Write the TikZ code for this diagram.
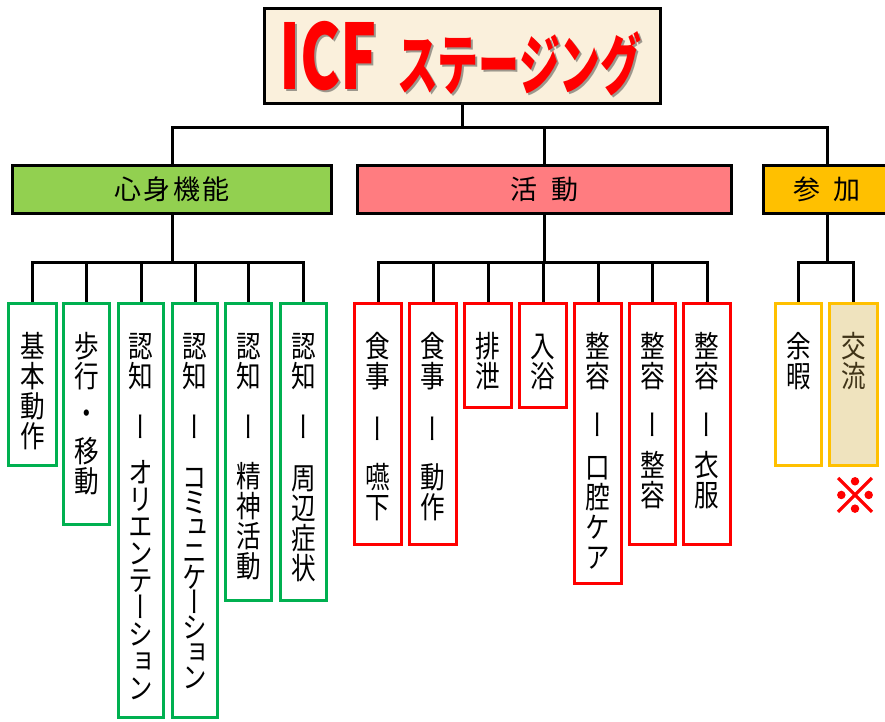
\documentclass[tikz,border=0pt]{standalone}
\usepackage{fontspec}
\usepackage{graphicx}
\newfontfamily\jpv[FakeStretch=0.82,RawFeature=+vert]{Noto Sans CJK JP}
\newfontfamily\jph{Noto Sans CJK JP}
\newfontfamily\jpmark[FakeBold=2.5]{Noto Sans CJK JP}
\newfontfamily\ttA[FakeStretch=0.67]{Noto Sans CJK JP}
\newfontfamily\ttB[FakeStretch=0.62]{Noto Sans CJK JP}
\definecolor{cgreen}{HTML}{92D050}
\definecolor{cgreenline}{HTML}{00B050}
\definecolor{csalmon}{HTML}{FF7C80}
\definecolor{cgold}{HTML}{FFC000}
\definecolor{cparch}{RGB}{250,240,220}
\definecolor{ctan}{RGB}{239,227,190}
\definecolor{ctexttan}{RGB}{64,52,24}
\newcommand\sepbar{ー}
\newcommand\fs{\rule{0pt}{27pt}}
\newcommand\leafnode[7]{%
  \node[leafbox,#5,minimum width={#3-#2-3},minimum height={#4-304.5}] (#1) at ({(#2+#3)/2},{(301.5+#4)/2}) {};
  \node[leaftext,#6,anchor=north] (#1t) at ([yshift=-28.4pt]#1.north) {\fs #7};
}
\begin{document}
\begin{tikzpicture}[x=1pt,y=-1pt,
  conn/.style={line width=3pt, draw=black},
  hdr/.style={draw=black, line width=3pt, inner sep=0pt, minimum height=48pt,
    font=\jph\fontsize{27pt}{27pt}\selectfont, text height=23.8pt, text depth=3.2pt},
  leafbox/.style={line width=3pt, inner sep=0pt},
  leafG/.style={draw=cgreenline, fill=white},
  leafR/.style={draw=red, fill=white},
  leafY/.style={draw=cgold, fill=white},
  leafY2/.style={draw=cgold, fill=ctan},
  leaftext/.style={inner sep=0pt, align=center, font=\jpv\fontsize{30pt}{30pt}\selectfont},
]
\useasboundingbox (0,0) rectangle (885,721);
\fill[white] (0,0) rectangle (885,721);

% title
\node[draw=black, line width=3pt, fill=cparch, inner sep=0pt, minimum width=396pt, minimum height=95pt] (title) at (462.5,56) {};
\node[anchor=base, inner sep=0pt, text=black!75, opacity=0.5] (titleshadow) at (462.5,91)
  {\bfseries{\ttA\fontsize{90pt}{90pt}\selectfont ICF}\hspace{20pt}{\ttB\fontsize{66pt}{66pt}\selectfont ステージング}};
\node[anchor=base, inner sep=0pt, text=red] (titletext) at (460.5,89)
  {\bfseries{\ttA\fontsize{90pt}{90pt}\selectfont ICF}\hspace{20pt}{\ttB\fontsize{66pt}{66pt}\selectfont ステージング}};

% headers
\node[hdr, fill=cgreen, minimum width=319pt] (h1) at (172,189.5) {心\hspace{2.5pt}身\hspace{2.5pt}機\hspace{2.5pt}能};
\node[hdr, fill=csalmon, minimum width=374pt] (h2) at (544.5,189.5) {活\hspace{15pt}動};
\node[hdr, fill=cgold, minimum width=127pt] (h3) at (827,189.5) {参\hspace{13pt}加};

\coordinate (j0) at ([yshift=-22pt]title.south);
\draw[conn] (title.south) -- (j0);
\draw[conn] (h1.north) |- (j0) -| (h3.north);
\draw[conn] (h2.north) -- (h2.north |- j0);

% leaves: body functions
\leafnode{g1}{7}{58}{467}{leafG}{}{基\\本\\動\\作}
\leafnode{g2}{62}{111}{526}{leafG}{}{歩\\行\\[7pt]・\\[8pt]移\\動}
\leafnode{g3}{117}{165}{719}{leafG}{}{認\\知\\[21pt]\sepbar\\[15pt]オ\\[-3pt]リ\\[-3pt]エ\\[-3pt]ン\\[-3pt]テ\\[-3pt]ー\\[-3pt]シ\\[-3pt]ョ\\[-3pt]ン}
\leafnode{g4}{171}{219}{719}{leafG}{}{認\\知\\[21pt]\sepbar\\[20pt]コ\\[-5pt]ミ\\[-5pt]ュ\\[-5pt]ニ\\[-5pt]ケ\\[-5pt]ー\\[-5pt]シ\\[-5pt]ョ\\[-5pt]ン}
\leafnode{g5}{224}{273}{602}{leafG}{}{認\\知\\[21pt]\sepbar\\[19pt]精\\神\\活\\動}
\leafnode{g6}{279}{328}{602}{leafG}{}{認\\知\\[21pt]\sepbar\\[21pt]周\\辺\\症\\状}

% leaves: activities
\leafnode{r1}{353}{403}{546}{leafR}{}{食\\事\\[23pt]\sepbar\\[18pt]嚥\\下}
\leafnode{r2}{408}{458}{546}{leafR}{}{食\\事\\[23pt]\sepbar\\[18pt]動\\作}
\leafnode{r3}{463}{513}{409}{leafR}{}{排\\泄}
\leafnode{r4}{518}{568}{409}{leafR}{}{入\\浴}
\leafnode{r5}{573}{623}{585}{leafR}{}{整\\容\\[19pt]\sepbar\\[12pt]口\\腔\\ケ\\ア}
\leafnode{r6}{628}{677}{546}{leafR}{}{整\\容\\[19pt]\sepbar\\[10pt]整\\容}
\leafnode{r7}{682}{732}{546}{leafR}{}{整\\容\\[19pt]\sepbar\\[10pt]衣\\服}

% leaves: participation
\leafnode{y1}{774}{823}{467}{leafY}{}{余\\暇}
\leafnode{y2}{828}{879}{467}{leafY2}{text=ctexttan}{交\\流}

\node[inner sep=0pt, text=red, font=\jpmark\fontsize{48pt}{48pt}\selectfont, text height=42.2pt, text depth=5.8pt] (mark) at (855,495) {※};

% sub connectors
\coordinate (j1) at ([yshift=-47pt]h1.south);
\coordinate (j2) at ([yshift=-47pt]h2.south);
\coordinate (j3) at ([yshift=-47pt]h3.south);
\draw[conn] (h1.south) -- (j1);
\draw[conn] (h2.south) -- (j2);
\draw[conn] (h3.south) -- (j3);
\foreach \n in {g1,g2,g3,g4,g5,g6} { \draw[conn] (\n.north) |- (j1); }
\foreach \n in {r1,r2,r3,r4,r5,r6,r7} { \draw[conn] (\n.north) |- (j2); }
\foreach \n in {y1,y2} { \draw[conn] (\n.north) |- (j3); }
\end{tikzpicture}
\end{document}
